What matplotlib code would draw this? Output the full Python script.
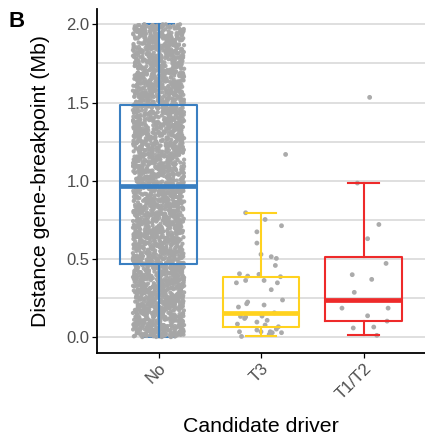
import numpy as np
import matplotlib
matplotlib.use("Agg")
import matplotlib.pyplot as plt
from matplotlib.transforms import ScaledTranslation

plt.rcParams['font.family'] = ['Liberation Sans', 'DejaVu Sans']

# Candidate driver groups
categories = ["No", "T3", "T1/T2"]
box_colors = ["#3a7fc1", "#ffd21f", "#ee2a2a"]

# Box summary per group (Mb): lower whisker, Q1, median, Q3, upper whisker
whisker_low = [0.000, 0.004, 0.011]
q1 = [0.465, 0.062, 0.104]
median = [0.965, 0.152, 0.237]
q3 = [1.485, 0.386, 0.509]
whisker_high = [2.000, 0.795, 0.985]

# "No" group: number of genes per 0.1 Mb distance bin (0-2 Mb)
no_bin_edges = np.round(np.arange(0, 2.01, 0.1), 2)
no_bin_counts = [165, 162, 160, 158, 152, 150, 150, 148, 147, 147,
                 146, 145, 145, 144, 144, 146, 146, 145, 145, 145]

# T3 genes: distance (Mb) and horizontal jitter offset
t3_dist = [1.168, 0.795, 0.752, 0.712, 0.673, 0.601, 0.529, 0.514, 0.503,
           0.458, 0.405, 0.401, 0.390, 0.386, 0.347, 0.362, 0.362, 0.347,
           0.303, 0.237, 0.224, 0.213, 0.192, 0.205, 0.155, 0.132, 0.119,
           0.128, 0.134, 0.107, 0.083, 0.096, 0.077, 0.066, 0.034, 0.045,
           0.034, 0.034, 0.028, 0.028, 0.004, 0.017, 0.051]
t3_jitter = [0.24, -0.15, 0.04, 0.20, -0.04, -0.04, 0.00, 0.10, 0.15,
             0.14, -0.21, -0.02, -0.13, 0.19, -0.24, -0.15, 0.03, 0.16,
             0.10, 0.21, -0.13, -0.14, -0.22, 0.03, 0.13, -0.20, -0.16,
             -0.15, 0.01, 0.06, -0.23, -0.04, 0.04, 0.17, -0.21, -0.04,
             0.00, 0.09, 0.11, 0.20, -0.19, 0.08, 0.15]

# T1/T2 genes: distance (Mb) and horizontal jitter offset
t12_dist = [1.533, 0.985, 0.720, 0.629, 0.471, 0.399, 0.369, 0.286,
            0.185, 0.185, 0.136, 0.102, 0.058, 0.064, 0.011]
t12_jitter = [0.06, -0.06, 0.15, 0.04, 0.22, -0.11, 0.08, -0.09,
              -0.21, 0.24, 0.04, 0.23, -0.10, 0.10, 0.13]

# Expand the binned "No" group into individual distances spread over each bin
no_dist = []
for lo, hi, n in zip(no_bin_edges[:-1], no_bin_edges[1:], no_bin_counts):
    no_dist.extend(lo + (np.arange(n) + 0.5) / n * (hi - lo))
no_dist = np.array(no_dist)


def hash_unit(k, seed):
    """Deterministic scrambled value in [0, 1) for jitter."""
    v = np.sin(k * 12.9898 + seed * 78.233) * 43758.5453
    return v - np.floor(v)


idx = np.arange(len(no_dist), dtype=float)
no_jitter = (hash_unit(idx, 1.0) - 0.5) * 0.5
# small vertical scatter inside each bin so the cloud is not row-aligned
no_dist = np.clip(no_dist + (hash_unit(idx, 2.0) - 0.5) * 0.01, 0.0, 2.0)

W, H = 425, 437
fig = plt.figure(figsize=(W / 100, H / 100), dpi=100)
ax = fig.add_axes([97 / W, 1 - 352.7 / H, (W - 97) / W, (352.7 - 8.7) / H])

positions = np.arange(1, len(categories) + 1)

# jittered points
ax.scatter(positions[0] + no_jitter, no_dist, s=9.5, color="#a6a6a6",
           edgecolors="none", alpha=0.95, zorder=2)
small_kw = dict(s=12, color="#ababab", edgecolors="none", zorder=2)
ax.scatter(positions[1] + np.array(t3_jitter), t3_dist, **small_kw)
ax.scatter(positions[2] + np.array(t12_jitter), t12_dist, **small_kw)

# boxes from the summary statistics
stats = []
for i, name in enumerate(categories):
    stats.append(dict(label=name, whislo=whisker_low[i], q1=q1[i], med=median[i],
                      q3=q3[i], whishi=whisker_high[i], fliers=[]))
bp = ax.bxp(stats, positions=positions, widths=0.75, capwidths=0.3,
            showfliers=False, patch_artist=False, manage_ticks=False)
for i, c in enumerate(box_colors):
    bp['boxes'][i].set(color=c, linewidth=1.5, zorder=3)
    bp['medians'][i].set(color=c, linewidth=3.4, zorder=3, solid_capstyle='butt')
    for w in bp['whiskers'][2 * i:2 * i + 2]:
        w.set(color=c, linewidth=1.5, zorder=3)
    for cp in bp['caps'][2 * i:2 * i + 2]:
        cp.set(color=c, linewidth=1.5, zorder=3 if i else 1.5)

# axes styling
ax.set_xlim(0.4, 3.6)
ax.set_ylim(-0.1, 2.1)
ax.set_yticks([0.0, 0.5, 1.0, 1.5, 2.0])
ax.set_yticklabels(["0.0", "0.5", "1.0", "1.5", "2.0"])
ax.set_yticks(np.arange(0.25, 2.0, 0.5), minor=True)
ax.set_xticks(positions)
ax.set_xticklabels(categories, rotation=45, ha="right", va="top",
                   rotation_mode="anchor")
shift = ScaledTranslation(4 / 100, -3 / 100, fig.dpi_scale_trans)
for lbl in ax.get_xticklabels():
    lbl.set_transform(lbl.get_transform() + shift)
ax.grid(axis="y", which="both", color="#d6d6d6", linewidth=1.1, zorder=0)
ax.set_axisbelow(True)
ax.tick_params(axis="y", which="minor", length=0)
ax.tick_params(axis="both", which="major", labelsize=12, labelcolor="#4d4d4d",
               length=3.5, width=0.9, color="black", pad=2)
for side in ("top", "right"):
    ax.spines[side].set_visible(False)
for side in ("left", "bottom"):
    ax.spines[side].set_linewidth(1.3)

ax.set_xlabel("Candidate driver", fontsize=15.3, color="black")
ax.xaxis.set_label_coords(0.5, (352.7 - 432) / 344.0)
ax.xaxis.label.set_va("baseline")
ax.set_ylabel("Distance gene-breakpoint (Mb)", fontsize=15.3, color="black")
ax.yaxis.set_label_coords((40.8 - 97) / 328.0, 0.5)
ax.yaxis.label.set_va("center")

fig.text(8.3 / W, 1 - 27.3 / H, "B", fontsize=16, fontweight="bold",
         ha="left", va="baseline")

fig.savefig("out.png", dpi=100)
